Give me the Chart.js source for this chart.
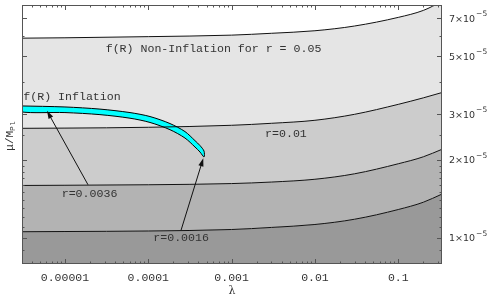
<!DOCTYPE html>
<html><head><meta charset="utf-8">
<script src="https://cdn.jsdelivr.net/npm/chart.js@4.4.0/dist/chart.umd.min.js"></script>
<style>html,body{margin:0;padding:0;background:#fff}#wrap{width:491px;height:303px}</style>
</head><body><div id="wrap"><canvas id="c" width="491" height="303"></canvas></div>
<script>
// ---- data ----
const lambdaGrid = [3e-6, 1e-5, 1e-4, 1e-3, 3e-3, 1e-2, 3e-2, 0.1, 0.2, 0.335];
const mu_r0050 = [5.88e-5, 5.90e-5, 5.96e-5, 6.04e-5, 6.14e-5, 6.28e-5, 6.55e-5, 7.07e-5, 7.52e-5, 8.14e-5];
const mu_r0100 = [2.644e-5, 2.649e-5, 2.668e-5, 2.716e-5, 2.764e-5, 2.839e-5, 2.994e-5, 3.270e-5, 3.464e-5, 3.631e-5];
const mu_r0036 = [1.593e-5, 1.596e-5, 1.603e-5, 1.620e-5, 1.642e-5, 1.683e-5, 1.767e-5, 1.931e-5, 2.054e-5, 2.195e-5];
const mu_r0016 = [1.057e-5, 1.059e-5, 1.064e-5, 1.078e-5, 1.098e-5, 1.127e-5, 1.181e-5, 1.287e-5, 1.373e-5, 1.476e-5];

const lambdaBand = [2.9e-6, 1e-5, 2.63e-5, 6.03e-5, 1.048e-4, 1.822e-4, 2.758e-4, 3.636e-4, 4.18e-4, 4.665e-4];
const muBandUpper = [3.225e-5, 3.195e-5, 3.135e-5, 3.040e-5, 2.935e-5, 2.758e-5, 2.568e-5, 2.370e-5, 2.268e-5, 2.160e-5];
const muBandLower = [3.062e-5, 3.040e-5, 2.985e-5, 2.892e-5, 2.785e-5, 2.612e-5, 2.425e-5, 2.240e-5, 2.142e-5, 2.050e-5];

const xTickValues = [1e-5, 1e-4, 1e-3, 1e-2, 0.1];
const xTickLabels = ["0.00001", "0.0001", "0.001", "0.01", "0.1"];
const yTickValues = [1e-5, 2e-5, 3e-5, 5e-5, 7e-5];
const yTickMantissa = ["1", "2", "3", "5", "7"];
const yTickExponent = "\u22125";
const yMinorTicks = [8e-6, 9e-6, 1.1e-5, 1.2e-5, 1.3e-5, 1.4e-5, 1.5e-5, 1.6e-5, 1.7e-5, 1.8e-5, 1.9e-5, 2.5e-5, 4e-5, 6e-5];

const annotationTexts = ["f(R) Non-Inflation for r = 0.05", "f(R) Inflation", "r=0.01", "r=0.0036", "r=0.0016"];
const annotationAt = [[3.08e-5, 5.36e-5], [3.16e-6, 3.485e-5], [2.52e-3, 2.512e-5], [9.13e-6, 1.480e-5], [1.148e-4, 1.0e-5]];
const arrowFrom = [[1.89e-5, 1.603e-5], [2.47e-4, 1.070e-5]];
const arrowTo = [[6.08e-6, 3.087e-5], [4.57e-4, 2.027e-5]];

// ---- build ----
const pts = (xs, ys) => xs.map((x, i) => ({x: x, y: ys[i]}));
const bandPolygon = pts(lambdaBand, muBandUpper)
  .concat(pts(lambdaBand, muBandLower).reverse())
  .concat([{x: lambdaBand[0], y: muBandUpper[0]}]);

const FONT = "'Liberation Mono', 'DejaVu Sans Mono', monospace";
const SANS = "'DejaVu Sans', sans-serif";
const TXT = '#333333';

const contour = (data, fill, bg) => ({
  data: data, fill: fill, backgroundColor: bg, borderColor: '#111', borderWidth: 1,
  pointRadius: 0, cubicInterpolationMode: 'monotone'
});

const decor = {
  id: 'decor',
  afterDatasetsDraw(chart) {
    const ctx = chart.ctx, xs = chart.scales.x, ys = chart.scales.y, a = chart.chartArea;
    ctx.save();
    // arrows
    ctx.strokeStyle = '#111'; ctx.fillStyle = '#111'; ctx.lineWidth = 1;
    arrowFrom.forEach((f, i) => {
      const x0 = xs.getPixelForValue(f[0]), y0 = ys.getPixelForValue(f[1]);
      const x1 = xs.getPixelForValue(arrowTo[i][0]), y1 = ys.getPixelForValue(arrowTo[i][1]);
      const ang = Math.atan2(y1 - y0, x1 - x0), L = 8, W = 2.6;
      ctx.beginPath(); ctx.moveTo(x0, y0);
      ctx.lineTo(x1 - (L - 1) * Math.cos(ang), y1 - (L - 1) * Math.sin(ang)); ctx.stroke();
      ctx.beginPath(); ctx.moveTo(x1, y1);
      ctx.lineTo(x1 - L * Math.cos(ang) + W * Math.sin(ang), y1 - L * Math.sin(ang) - W * Math.cos(ang));
      ctx.lineTo(x1 - L * Math.cos(ang) - W * Math.sin(ang), y1 - L * Math.sin(ang) + W * Math.cos(ang));
      ctx.closePath(); ctx.fill();
    });
    // texts
    ctx.fillStyle = TXT; ctx.font = "11.6px " + FONT; ctx.textAlign = 'left'; ctx.textBaseline = 'middle';
    annotationTexts.forEach((t, i) => {
      ctx.fillText(t, xs.getPixelForValue(annotationAt[i][0]), ys.getPixelForValue(annotationAt[i][1]));
    });
    // frame
    ctx.strokeStyle = '#555'; ctx.lineWidth = 1;
    ctx.strokeRect(Math.round(a.left) + 0.5, Math.round(a.top) + 0.5, Math.round(a.right - a.left) - 1, Math.round(a.bottom - a.top) - 1);
    // inner ticks
    ctx.beginPath();
    for (let e = -6; e <= 0; e++) for (let m = 1; m <= 9; m++) {
      const v = m * Math.pow(10, e);
      if (v < xs.min || v > xs.max) continue;
      const px = Math.round(xs.getPixelForValue(v)) + 0.5, len = m === 1 ? 5 : 2.5;
      ctx.moveTo(px, a.bottom); ctx.lineTo(px, a.bottom - len);
      ctx.moveTo(px, a.top); ctx.lineTo(px, a.top + len);
    }
    const yt = (v, len) => {
      const py = Math.round(ys.getPixelForValue(v)) + 0.5;
      ctx.moveTo(a.left, py); ctx.lineTo(a.left + len, py);
      ctx.moveTo(a.right, py); ctx.lineTo(a.right - len, py);
    };
    yTickValues.forEach(v => yt(v, 5));
    yMinorTicks.forEach(v => yt(v, 2.5));
    ctx.stroke();
    // y tick labels (mantissa x 10 with superscript exponent)
    ctx.fillStyle = TXT; ctx.textAlign = 'left'; ctx.textBaseline = 'middle';
    yTickValues.forEach((v, i) => {
      const py = ys.getPixelForValue(v), px = a.right + 7;
      ctx.font = "9.5px " + SANS;
      const base = yTickMantissa[i] + "\u00d710";
      ctx.fillText(base, px, py + 1);
      const w = ctx.measureText(base).width;
      ctx.font = "7.5px " + SANS;
      ctx.fillText(yTickExponent, px + w + 1, py - 4);
    });
    // y title
    ctx.translate(10, 136); ctx.rotate(-Math.PI / 2);
    ctx.fillStyle = TXT; ctx.textBaseline = 'middle';
    ctx.font = "11px " + FONT;
    const w1 = ctx.measureText("\u03bc/M").width;
    ctx.font = "8px " + FONT;
    const w2 = ctx.measureText("Pl").width;
    ctx.font = "11px " + FONT; ctx.textAlign = 'left';
    ctx.fillText("\u03bc/M", -(w1 + w2) / 2, 0);
    ctx.font = "8px " + FONT;
    ctx.fillText("Pl", -(w1 + w2) / 2 + w1, 3);
    ctx.restore();
  }
};

new Chart(document.getElementById('c'), {
  type: 'line',
  data: {
    datasets: [
      contour(pts(lambdaGrid, mu_r0016), 'start', '#999999'),
      contour(pts(lambdaGrid, mu_r0036), '-1', '#b3b3b3'),
      contour(pts(lambdaGrid, mu_r0100), '-1', '#cccccc'),
      contour(pts(lambdaGrid, mu_r0050), '-1', '#e5e5e5'),
      {data: bandPolygon, fill: 'shape', backgroundColor: '#00ffff', borderColor: '#000', borderWidth: 1,
       pointRadius: 0, tension: 0.3, order: -1}
    ]
  },
  options: {
    responsive: false, animation: false, devicePixelRatio: 1,
    layout: {padding: {left: 22, top: 5, right: 0, bottom: 0}},
    plugins: {legend: {display: false}, tooltip: {enabled: false}, filler: {drawTime: 'beforeDatasetsDraw'}},
    scales: {
      x: {
        type: 'logarithmic', position: 'bottom', min: 3.05e-6, max: 0.335,
        grid: {display: false, drawTicks: false}, border: {display: false},
        afterBuildTicks: s => { s.ticks = xTickValues.map(v => ({value: v})); },
        afterFit: s => { s.height = 39; },
        ticks: {autoSkip: false, maxRotation: 0, padding: 7, color: TXT, font: {family: FONT, size: 11.5},
                callback: (v, i) => xTickLabels[i]},
        title: {display: true, text: '\u03bb', color: TXT, font: {family: 'DejaVu Serif', size: 11}, padding: {top: 0, bottom: 5}}
      },
      y: {
        type: 'logarithmic', position: 'right', min: 7.94e-6, max: 7.89e-5,
        grid: {display: false, drawTicks: false}, border: {display: false},
        afterBuildTicks: s => { s.ticks = yTickValues.map(v => ({value: v})); },
        afterFit: s => { s.width = 49; },
        ticks: {display: false}
      }
    }
  },
  plugins: [decor]
});
</script>
</body></html>
